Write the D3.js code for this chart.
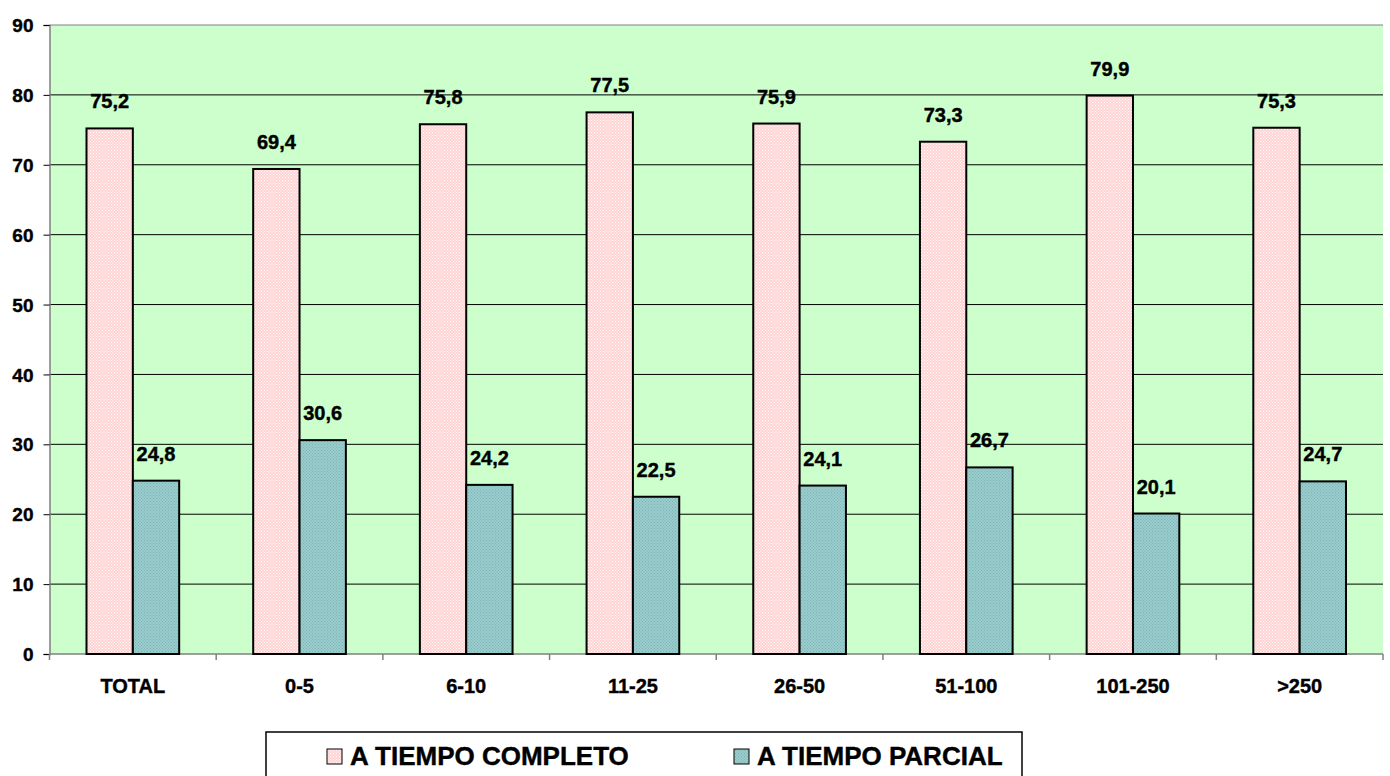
<!DOCTYPE html>
<html><head><meta charset="utf-8">
<script src="https://cdn.jsdelivr.net/npm/d3@7"></script>
<style>body{margin:0;background:#fff}svg{display:block}text{font-family:"Liberation Sans",Arial,sans-serif;font-weight:bold;stroke:#000;stroke-width:0.4px}</style>
</head><body>
<script>
const categories = ["TOTAL","0-5","6-10","11-25","26-50","51-100","101-250",">250"];
const completo = [75.2,69.4,75.8,77.5,75.9,73.3,79.9,75.3];
const parcial = [24.8,30.6,24.2,22.5,24.1,26.7,20.1,24.7];
const seriesNames = ["A TIEMPO COMPLETO","A TIEMPO PARCIAL"];
const yTicks = [0,10,20,30,40,50,60,70,80,90];

const W=1390,H=776;
const svg=d3.select("body").append("svg").attr("width",W).attr("height",H);
const defs=svg.append("defs");
function pat(id,base,dot){
  const p=defs.append("pattern").attr("id",id).attr("width",3).attr("height",3).attr("patternUnits","userSpaceOnUse");
  p.append("rect").attr("width",3).attr("height",3).attr("fill",base);
  p.append("rect").attr("x",0).attr("y",0).attr("width",1).attr("height",1).attr("fill",dot);
  p.append("rect").attr("x",1.5).attr("y",1.5).attr("width",1).attr("height",1).attr("fill",dot);
}
pat("pk","#ffd3d3","#ffffff");
pat("tl","#99cccc","#7fb3b3");

const L=49.5,R=1383,T=25,B=654;
const x=d3.scaleBand().domain(categories).range([L,R]).paddingInner(0.444).paddingOuter(0.222);
const xs=d3.scaleBand().domain([0,1]).range([0,x.bandwidth()]);
const y=d3.scaleLinear().domain([0,90]).range([B,T]);

svg.append("rect").attr("x",L).attr("y",T).attr("width",R-L).attr("height",B-T).attr("fill","#ccffcc");
svg.append("g").selectAll("line").data(yTicks.slice(1)).join("line")
  .attr("x1",L).attr("x2",R).attr("y1",d=>y(d)).attr("y2",d=>y(d))
  .attr("stroke",d=>d===90?"#808080":"#000").attr("stroke-width",1);

const yAxis=svg.append("g").attr("transform",`translate(${L},0)`)
  .call(d3.axisLeft(y).tickValues(yTicks).tickSize(6).tickPadding(10).tickFormat(d3.format("d")));
yAxis.select(".domain").attr("stroke","#808080").attr("stroke-width",1.5);
yAxis.selectAll(".tick line").attr("stroke","#000");
yAxis.selectAll("text").attr("font-size",19).attr("fill","#000").attr("font-family","Liberation Sans, Arial").attr("font-weight","bold").attr("dy","0.35em");

// x axis
svg.append("line").attr("x1",L).attr("x2",R).attr("y1",B).attr("y2",B).attr("stroke","#808080").attr("stroke-width",1.5);
const step=(R-L)/categories.length;
svg.append("g").selectAll("line").data(d3.range(categories.length+1)).join("line")
  .attr("x1",i=>L+i*step).attr("x2",i=>L+i*step).attr("y1",B).attr("y2",B+6).attr("stroke","#808080").attr("stroke-width",1.5);
svg.append("g").selectAll("text").data(categories).join("text")
  .attr("x",d=>x(d)+x.bandwidth()/2).attr("y",B+39).attr("text-anchor","middle")
  .attr("font-size",20).text(d=>d);

const data=[completo,parcial];
const fills=["url(#pk)","url(#tl)"];
data.forEach((vals,s)=>{
  const g=svg.append("g");
  g.selectAll("rect").data(vals).join("rect")
    .attr("x",(d,i)=>x(categories[i])+xs(s)).attr("width",xs.bandwidth())
    .attr("y",d=>y(d)).attr("height",d=>B-y(d))
    .attr("fill",fills[s]).attr("stroke","#000").attr("stroke-width",2);
  g.selectAll("text").data(vals).join("text")
    .attr("x",(d,i)=>x(categories[i])+xs(s)+xs.bandwidth()/2)
    .attr("y",d=>y(d)-20).attr("text-anchor","middle").attr("font-size",20)
    .text(d=>d3.format(".1f")(d).replace(".",","));
});

// legend
const lg=svg.append("g");
lg.append("rect").attr("x",266).attr("y",732).attr("width",756).attr("height",60).attr("fill","#fff").attr("stroke","#000").attr("stroke-width",1.5);
const lx=[327,734];
seriesNames.forEach((n,i)=>{
  lg.append("rect").attr("x",lx[i]).attr("y",749).attr("width",15).attr("height",15).attr("fill",fills[i]).attr("stroke","#000").attr("stroke-width",1);
  lg.append("text").attr("x",lx[i]+23).attr("y",765).attr("font-size",26).text(n);
});
</script>
</body></html>
